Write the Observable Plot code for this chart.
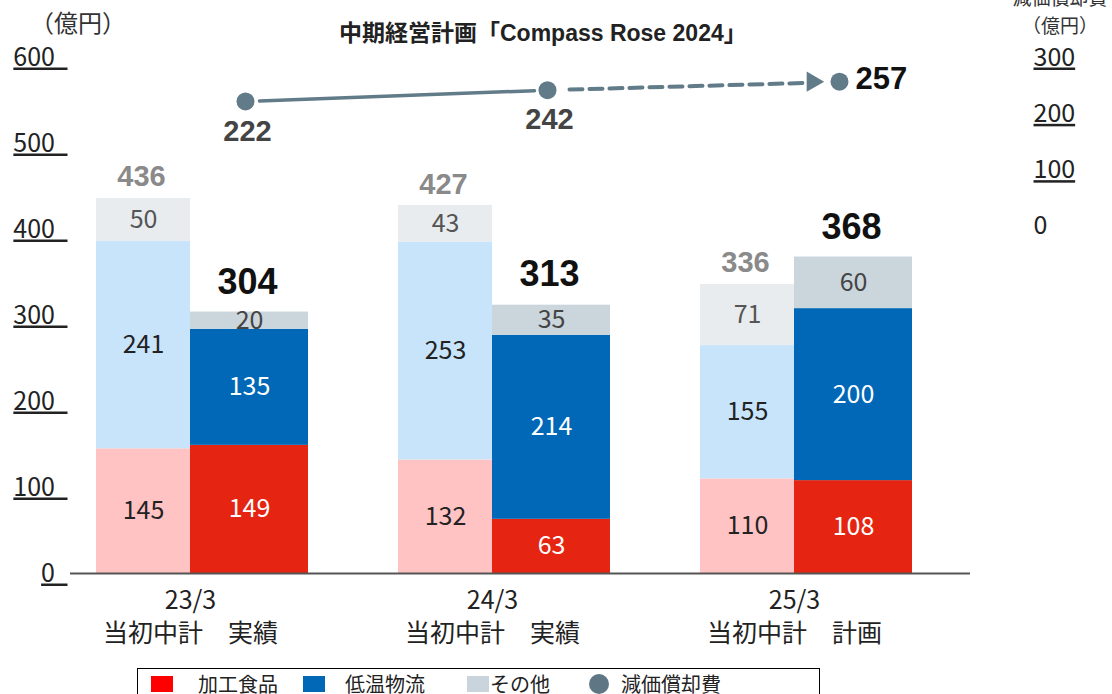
<!DOCTYPE html>
<html><head><meta charset="utf-8">
<script src="https://cdn.jsdelivr.net/npm/d3@7"></script>
<script src="https://cdn.jsdelivr.net/npm/@observablehq/plot@0.6"></script>
<style>
body{margin:0;background:#fff;font-family:"Noto Sans CJK JP","Noto Sans",sans-serif;color:#222;}
#wrap{position:relative;width:1112px;height:694px;overflow:hidden;}
#chart{position:absolute;left:0;top:0;}
.ul text{text-decoration:underline;}
.abs{position:absolute;white-space:nowrap;}
#unitL{left:30px;top:4px;font-size:24px;color:#333;}
#title{left:339px;top:14px;font-size:23px;font-weight:bold;font-family:"Liberation Sans","Noto Sans CJK JP",sans-serif;color:#222;}
#unitR{left:1000px;top:-17px;font-size:19px;color:#333;text-align:center;line-height:28px;width:120px;}
#legend{left:137px;top:668px;width:681px;height:40px;border:1px solid #000;}
#legend div{position:absolute;}
#legend .tx{top:0;line-height:30px;font-size:20px;color:#222;}
#legend .sq{top:7px;width:22px;height:16px;}
</style></head><body>
<div id="wrap">
<div id="chart"></div>
<div class="abs" id="unitL">（億円）</div>
<div class="abs" id="title">中期経営計画「Compass Rose 2024」</div>
<div class="abs" id="unitR">減価償却費<br>（億円）</div>
<div class="abs" id="legend"></div>
</div>
<script>
// ---- data ----
const periods = ["23/3", "24/3", "25/3"];
const subLabels = ["当初中計　実績", "当初中計　実績", "当初中計　計画"];
const segments = ["加工食品", "低温物流", "その他"];
const processedPlan = [145, 132, 110];
const processedActual = [149, 63, 108];
const coldPlan = [241, 253, 155];
const coldActual = [135, 214, 200];
const otherPlan = [50, 43, 71];
const otherActual = [20, 35, 60];
const planTotals = [436, 427, 336];
const actualTotals = [304, 313, 368];
const depreciation = [222, 242, 257];
const leftTicks = [0, 100, 200, 300, 400, 500, 600];
const rightTicks = [0, 100, 200, 300];

// ---- styles ----
const planFill = {"加工食品": "#ffc3c3", "低温物流": "#c8e4fb", "その他": "#e8ecef"};
const actualFill = {"加工食品": "#e52512", "低温物流": "#0068b7", "その他": "#cad5dc"};
const planText = {"加工食品": "#222", "低温物流": "#222", "その他": "#555"};
const actualText = {"加工食品": "#fff", "低温物流": "#fff", "その他": "#444"};
const lineColor = "#617b89";

// right axis (depreciation) mapped onto the left value space
const rOff = 403.5, rK = 196.5 / 300;
const toLeft = v => rOff + v * rK;
const fromLeft = v => Math.round((v - rOff) / rK);

const planVals = [processedPlan, coldPlan, otherPlan];
const actualVals = [processedActual, coldActual, otherActual];
const planRows = [], actualRows = [];
periods.forEach((p, i) => {
  segments.forEach((s, k) => {
    planRows.push({period: p, seg: s, value: planVals[k][i], fill: planFill[s], tc: planText[s]});
    actualRows.push({period: p, seg: s, value: actualVals[k][i], fill: actualFill[s], tc: actualText[s]});
  });
});
const totalsPlan = periods.map((p, i) => ({period: p, v: planTotals[i]}));
const totalsActual = periods.map((p, i) => ({period: p, v: actualTotals[i]}));
const dep = periods.map((p, i) => ({period: p, v: depreciation[i], y: toLeft(depreciation[i])}));
const solidSeg = [{a: dep[0], b: dep[1]}];
const dashSeg = [{a: dep[1], b: dep[2]}];

const PX = 55;      // offset of the depreciation series (centre of the actual bar)
const PX3 = 45;     // last (plan) point sits a little further left
const segFont = "Noto Sans CJK JP";
const boldFont = "Liberation Sans";

const chart = Plot.plot({
  width: 1112,
  height: 668,
  marginLeft: 70,
  marginRight: 142,
  marginTop: 57,
  marginBottom: 95,
  style: {fontFamily: "Noto Sans CJK JP", background: "transparent"},
  x: {type: "band", domain: periods, paddingInner: 0.212, paddingOuter: 0.096, align: 0.02, label: null},
  y: {domain: [0, 600], label: null},
  color: {type: "identity"},
  marks: [
    Plot.barY(planRows, Plot.stackY({x: "period", y: "value", z: "seg", fill: "fill", insetLeft: 25, insetRight: 119})),
    Plot.barY(actualRows, Plot.stackY({x: "period", y: "value", z: "seg", fill: "fill", insetLeft: 119, insetRight: 1})),
    Plot.text(planRows, Plot.stackY({x: "period", y: "value", z: "seg", text: d => String(d.value), fill: "tc", dx: -47, fontSize: 25, fontFamily: segFont})),
    Plot.text(actualRows, Plot.stackY({x: "period", y: "value", z: "seg", text: d => String(d.value), fill: "tc", dx: 59, fontSize: 25, fontFamily: segFont})),
    Plot.text(totalsPlan, {x: "period", y: "v", text: d => String(d.v), dx: -49, dy: -22, fill: "#8a8a8a", fontSize: 29, fontWeight: "bold", fontFamily: boldFont}),
    Plot.text(totalsActual, {x: "period", y: "v", text: d => String(d.v), dx: 57, dy: -30, fill: "#111", fontSize: 36, fontWeight: "bold", fontFamily: boldFont}),
    Plot.ruleY([0], {stroke: "#555", strokeWidth: 2}),
    // depreciation line
    Plot.arrow(solidSeg, {x1: d => d.a.period, y1: d => d.a.y, x2: d => d.b.period, y2: d => d.b.y, dx: PX, headLength: 0, insetStart: 14, insetEnd: 13, stroke: lineColor, strokeWidth: 3.5}),
    Plot.arrow(dashSeg, {x1: d => d.a.period, y1: d => d.a.y, x2: d => d.b.period, y2: d => d.b.y, dx: PX, headLength: 0, insetStart: 22, insetEnd: 42, stroke: lineColor, strokeWidth: 4, strokeDasharray: "13,7"}),
    Plot.dot(dep.slice(2), {x: "period", y: "y", dx: PX3 - 27, symbol: "triangle", rotate: 90, r: 7.5, fill: lineColor, stroke: "none"}),
    Plot.dot(dep.slice(0, 2), {x: "period", y: "y", dx: PX, r: 9, fill: lineColor, stroke: "none"}),
    Plot.dot(dep.slice(2), {x: "period", y: "y", dx: PX3, r: 9, fill: lineColor, stroke: "none"}),
    Plot.text(dep.slice(0, 2), {x: "period", y: "y", text: d => String(d.v), dx: PX + 2, dy: 30, fill: "#444", fontSize: 29, fontWeight: "bold", fontFamily: boldFont}),
    Plot.text(dep.slice(2), {x: "period", y: "y", text: d => String(d.v), dx: PX3 + 16, dy: -3, textAnchor: "start", fill: "#111", fontSize: 31, fontWeight: "bold", fontFamily: boldFont}),
    // axes
    Plot.axisY(leftTicks, {anchor: "left", tickSize: 0, tickPadding: 3, tickFormat: d => d + "\u2002", fontSize: 25, fill: "#222", className: "ul"}),
    Plot.axisY(rightTicks.filter(d => d > 0).map(toLeft), {anchor: "right", tickSize: 0, tickPadding: 63, tickFormat: fromLeft, fontSize: 25, fill: "#222", className: "ul"}),
    Plot.axisY([toLeft(0)], {anchor: "right", tickSize: 0, tickPadding: 63, tickFormat: fromLeft, fontSize: 25, fill: "#222"}),
    Plot.axisX(periods, {anchor: "bottom", tickSize: 0, tickPadding: 12, tickFormat: d => d + "\n" + subLabels[periods.indexOf(d)], fontSize: 25, lineHeight: 1.32, fill: "#222"})
  ]
});
document.getElementById("chart").appendChild(chart);

// legend
const lg = document.getElementById("legend");
const items = [
  {type: "sq", color: "#ff0000", label: "加工食品", sx: 13, tx: 60},
  {type: "sq", color: "#0068b7", label: "低温物流", sx: 165, tx: 207},
  {type: "sq", color: "#c9d4dc", label: "その他", sx: 329, tx: 352},
  {type: "dot", color: "#5f7785", label: "減価償却費", sx: 451, tx: 483}
];
items.forEach(it => {
  const m = document.createElement("div");
  if (it.type === "sq") { m.className = "sq"; }
  else { m.style.cssText = "top:5px;width:20px;height:20px;border-radius:50%;"; }
  m.style.left = it.sx + "px";
  m.style.background = it.color;
  lg.appendChild(m);
  const t = document.createElement("div");
  t.className = "tx";
  t.style.left = it.tx + "px";
  t.textContent = it.label;
  lg.appendChild(t);
});
</script>
</body></html>
